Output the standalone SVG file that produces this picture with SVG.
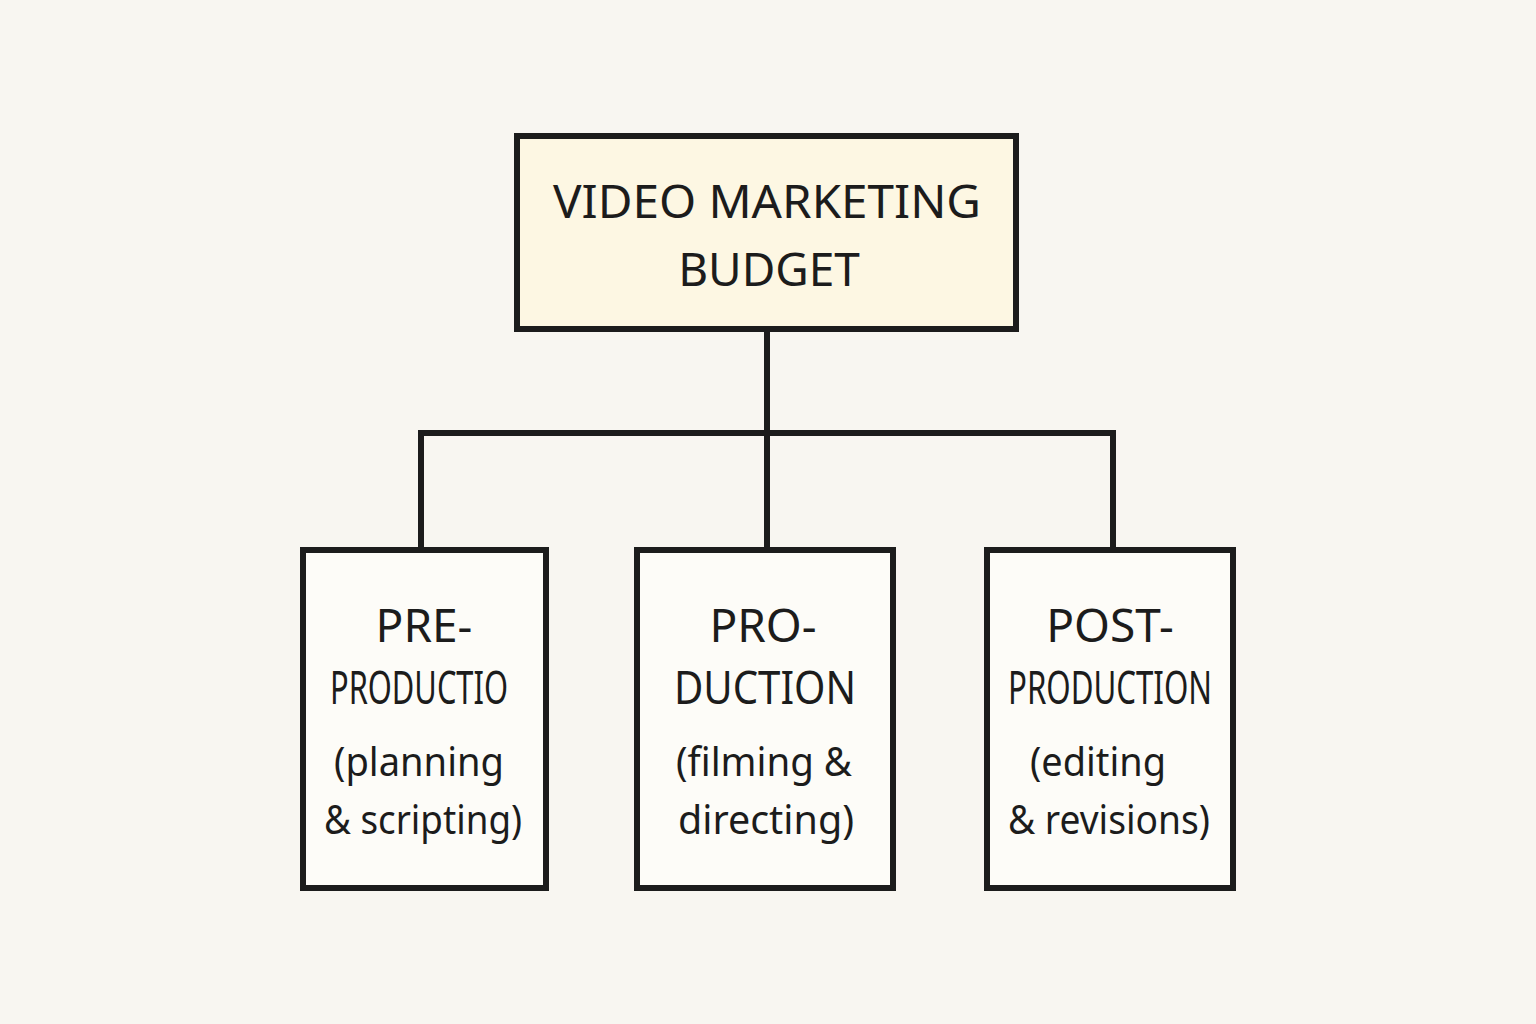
<svg xmlns="http://www.w3.org/2000/svg" width="1536" height="1024" viewBox="0 0 1536 1024">
<style>
.box{fill:#fdfcf8;stroke:#1c1c1c;stroke-width:6}
.t{font-family:"Noto Sans",sans-serif;font-size:46px;fill:#1c1c1c;text-anchor:middle}
.s{font-family:"Noto Sans",sans-serif;font-size:40px;fill:#1c1c1c;text-anchor:middle}
.c{fill:none;stroke:#1c1c1c;stroke-width:6}
</style>
<rect width="1536" height="1024" fill="#f8f6f1"/>
<g id="connectors">
<path class="c" d="M767 330V550M421 550V433H1113V550"/>
</g>
<g id="root">
<rect class="box" x="517" y="136" width="499" height="193" style="fill:#fdf7e3"/>
<text class="t" x="767" y="218" textLength="428" lengthAdjust="spacingAndGlyphs">VIDEO MARKETING</text>
<text class="t" x="769" y="286">BUDGET</text>
</g>
<g id="pre">
<rect class="box" x="303" y="550" width="243" height="338"/>
<text class="t" x="424" y="642">PRE-</text>
<text class="t" x="419" y="704" textLength="178" lengthAdjust="spacingAndGlyphs">PRODUCTIO</text>
<text class="s" x="419" y="776" textLength="170" lengthAdjust="spacingAndGlyphs">(planning</text>
<text class="s" x="423" y="834" textLength="198" lengthAdjust="spacingAndGlyphs">&amp; scripting)</text>
</g>
<g id="prod">
<rect class="box" x="637" y="550" width="256" height="338"/>
<text class="t" x="763" y="642">PRO-</text>
<text class="t" x="765" y="704" textLength="182" lengthAdjust="spacingAndGlyphs">DUCTION</text>
<text class="s" x="764" y="776" textLength="176" lengthAdjust="spacingAndGlyphs">(filming &amp;</text>
<text class="s" x="766" y="834" textLength="176" lengthAdjust="spacingAndGlyphs">directing)</text>
</g>
<g id="post">
<rect class="box" x="987" y="550" width="246" height="338"/>
<text class="t" x="1110" y="642">POST-</text>
<text class="t" x="1110" y="704" textLength="204" lengthAdjust="spacingAndGlyphs">PRODUCTION</text>
<text class="s" x="1098" y="776" textLength="136" lengthAdjust="spacingAndGlyphs">(editing</text>
<text class="s" x="1109" y="834" textLength="202" lengthAdjust="spacingAndGlyphs">&amp; revisions)</text>
</g>
</svg>
